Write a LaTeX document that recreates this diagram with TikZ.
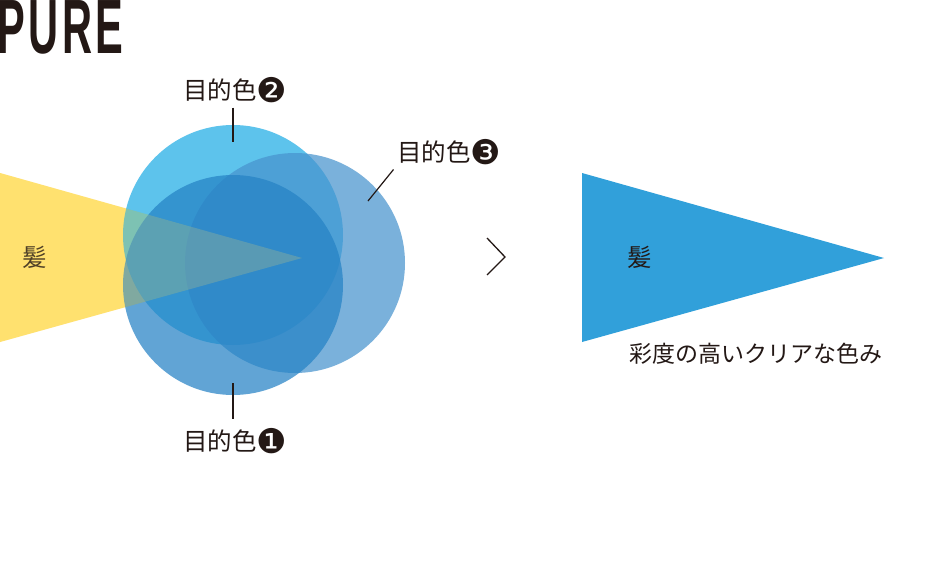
\documentclass[tikz,border=0pt]{standalone}
\usepackage{fontspec}
\setmainfont{Noto Sans CJK JP}
\newfontfamily\titlefont{Liberation Sans}
\newfontfamily\numfont{DejaVu Sans}
\usetikzlibrary{positioning,calc}
\definecolor{ink}{HTML}{231815}
\definecolor{hairyellow}{HTML}{FFE16F}
\definecolor{targetone}{HTML}{2582C5}
\definecolor{targettwo}{HTML}{1FADE5}
\definecolor{targetthree}{HTML}{4893CE}
\definecolor{pureblue}{HTML}{31A0DA}
\newcommand{\tnum}[1]{{\numfont\fontsize{34}{34}\selectfont\raisebox{-3.5pt}{#1}}}

\begin{document}
\begin{tikzpicture}[x=1pt,y=-1pt]
  \tikzset{
    colorlabel/.style={font=\fontsize{24.5}{24.5}\selectfont, text=ink, inner sep=0pt,
      outer sep=3.5pt, text height=19pt, text depth=5pt},
    leader/.style={draw=ink, line width=1.2pt},
    target/.style={circle, minimum size=220pt, inner sep=0pt, fill=#1, fill opacity=0.72}
  }
  \useasboundingbox[fill=white] (0,0) rectangle (934,560);

  \node[font=\titlefont\bfseries\fontsize{77}{77}\selectfont, text=ink, xscale=0.54,
    anchor=west, inner sep=0pt] (title) at (-3,27) {P\kern7pt U\kern7pt R\kern6pt E};

  % hair before
  \fill[hairyellow] (0,173) -- (302,258) -- (0,342) -- cycle;
  \node[colorlabel] (hair) at (35,259) {髪};

  % three target colours
  \node[target=targettwo] (c2) at (233,235) {};
  \node[target=targetthree] (c3) at (295,263) {};
  \node[target=targetone] (c1) at (233,285) {};
  \fill[hairyellow, fill opacity=0.2] (0,173) -- (302,258) -- (0,342) -- cycle;

  \node[colorlabel] (lbl2) at (235,92) {目的色\tnum{❷}};
  \node[colorlabel] (lbl3) at (449,154) {目的色\tnum{❸}};
  \node[colorlabel, outer sep=12pt] (lbl1) at (235,443) {目的色\tnum{❶}};

  \coordinate (e2) at ($(c2.north)+(0,17)$);
  \coordinate (e3) at (368,201);
  \coordinate (e1) at ($(c1.south)+(0,-12)$);
  \draw[leader] (lbl2.south -| e2) -- (e2);
  \draw[leader] (e3) -- (lbl3.south west);
  \draw[leader] (e1) -- (lbl1.north -| e1);

  % arrow
  \draw[ink, line width=1.3pt] (487,238) -- (505,257) -- (487,275);

  % hair after
  \fill[pureblue] (582,173) -- (884,258) -- (582,342) -- cycle;
  \node[colorlabel] (hairpure) at (640,259) {髪};
  \node[colorlabel, font=\fontsize{23}{23}\selectfont] (result) at (756,355) {彩度の高いクリアな色み};
\end{tikzpicture}
\end{document}
